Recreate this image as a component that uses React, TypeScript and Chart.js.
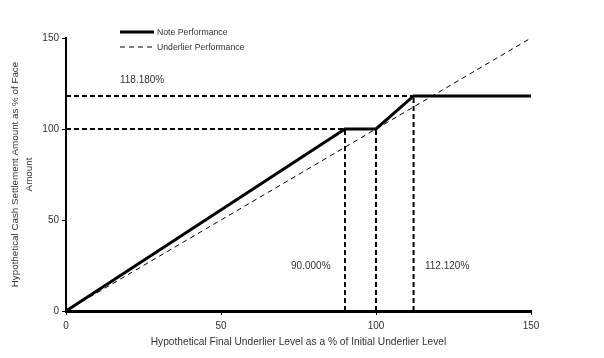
import React, { useEffect, useRef } from "react";
import { Chart, registerables } from "chart.js";

Chart.register(...registerables);

// Note performance payoff points (underlier level %, cash settlement %)
const noteX = [0, 90, 100, 112.12, 150];
const noteY = [0, 100, 100, 118.18, 118.18];
// Underlier performance
const underX = [0, 150];
const underY = [0, 150];
// Reference dashed guides: [x1, y1, x2, y2]
const guideLines: number[][] = [
  [0, 100, 90, 100],
  [0, 118.18, 112.12, 118.18],
  [90, 0, 90, 100],
  [100, 0, 100, 100],
  [112.12, 0, 112.12, 118.18],
];
// Text annotations
const annText = ["118.180%", "90.000%", "112.120%"];
const annX = [17.4, 72.6, 115.8];
const annY = [126.9, 24.7, 24.7];
const legendLabels = ["Note Performance", "Underlier Performance"];
const ticks = [0, 50, 100, 150];

const FONT = "'Liberation Sans', Arial, sans-serif";
const TEXT = "#333333";

export default function App() {
  const ref = useRef<HTMLCanvasElement | null>(null);
  useEffect(() => {
    if (!ref.current) return;
    const datasets: any[] = [
      {
        label: legendLabels[0],
        data: noteX.map((x, i) => ({ x, y: noteY[i] })),
        borderColor: "#000",
        borderWidth: 3,
        pointRadius: 0,
        showLine: true,
        fill: false,
      },
      {
        label: legendLabels[1],
        data: underX.map((x, i) => ({ x, y: underY[i] })),
        borderColor: "#000",
        borderWidth: 1,
        borderDash: [5, 4],
        pointRadius: 0,
        showLine: true,
        fill: false,
      },
      ...guideLines.map((g, k) => ({
        label: "guide" + k,
        data: [
          { x: g[0], y: g[1] },
          { x: g[2], y: g[3] },
        ],
        borderColor: "#000",
        borderWidth: 2,
        borderDash: [5, 3],
        pointRadius: 0,
        showLine: true,
        fill: false,
      })),
    ];

    const annotPlugin = {
      id: "annot",
      afterDraw(chart: any) {
        const ctx = chart.ctx;
        const xs = chart.scales.x;
        const ys = chart.scales.y;
        ctx.save();
        ctx.fillStyle = TEXT;
        ctx.font = `10px ${FONT}`;
        ctx.textAlign = "left";
        ctx.textBaseline = "middle";
        annText.forEach((t, i) => {
          ctx.fillText(t, xs.getPixelForValue(annX[i]), ys.getPixelForValue(annY[i]));
        });
        // legend
        const ca = chart.chartArea;
        const lx = ca.left + 54;
        const ly = ca.top - 6;
        ctx.strokeStyle = "#000";
        ctx.lineWidth = 3;
        ctx.beginPath();
        ctx.moveTo(lx, ly);
        ctx.lineTo(lx + 34, ly);
        ctx.stroke();
        ctx.lineWidth = 1.2;
        ctx.setLineDash([5, 4]);
        ctx.beginPath();
        ctx.moveTo(lx, ly + 15);
        ctx.lineTo(lx + 34, ly + 15);
        ctx.stroke();
        ctx.setLineDash([]);
        ctx.font = `8.7px ${FONT}`;
        ctx.fillText(legendLabels[0], lx + 37, ly + 1);
        ctx.fillText(legendLabels[1], lx + 37, ly + 16);
        ctx.restore();
      },
    };

    const chart = new Chart(ref.current, {
      type: "scatter",
      data: { datasets },
      options: {
        animation: false,
        responsive: false,
        maintainAspectRatio: false,
        layout: { padding: { left: 0, top: 38, right: 73, bottom: 10 } },
        plugins: { legend: { display: false }, tooltip: { enabled: false } },
        scales: {
          x: {
            type: "linear",
            min: 0,
            max: 150,
            afterBuildTicks: (s: any) => {
              s.ticks = ticks.map((v) => ({ value: v }));
            },
            afterFit: (s: any) => {
              s.height = 37;
            },
            border: { color: "#000", width: 3 },
            grid: { drawOnChartArea: false, drawTicks: true, tickLength: 4, color: "#000", lineWidth: 1 },
            ticks: { color: TEXT, font: { family: FONT, size: 10 }, padding: 5, maxRotation: 0 },
            title: {
              display: true,
              text: "Hypothetical Final Underlier Level as a % of Initial Underlier Level",
              color: TEXT,
              font: { family: FONT, size: 10.2 },
              padding: { top: 0, bottom: 0 },
            },
          },
          y: {
            type: "linear",
            min: 0,
            max: 150,
            afterBuildTicks: (s: any) => {
              s.ticks = ticks.map((v) => ({ value: v }));
            },
            afterFit: (s: any) => {
              s.width = 66;
            },
            border: { color: "#000", width: 2 },
            grid: { drawOnChartArea: false, drawTicks: true, tickLength: 4, color: "#000", lineWidth: 1 },
            ticks: { color: TEXT, font: { family: FONT, size: 10 }, padding: 3 },
            title: {
              display: true,
              text: ["Hypothetical Cash Settlement Amount as % of Face", "Amount"],
              color: TEXT,
              font: { family: FONT, size: 9.8, lineHeight: 1.45 },
              padding: { top: 8, bottom: 0 },
            },
          },
        },
      },
      plugins: [annotPlugin],
    });
    return () => chart.destroy();
  }, []);

  return (
    <div style={{ position: "fixed", left: 0, top: 0, width: 604, height: 358, background: "#fff" }}>
      <canvas ref={ref} width={604} height={358} style={{ width: 604, height: 358 }} />
    </div>
  );
}
